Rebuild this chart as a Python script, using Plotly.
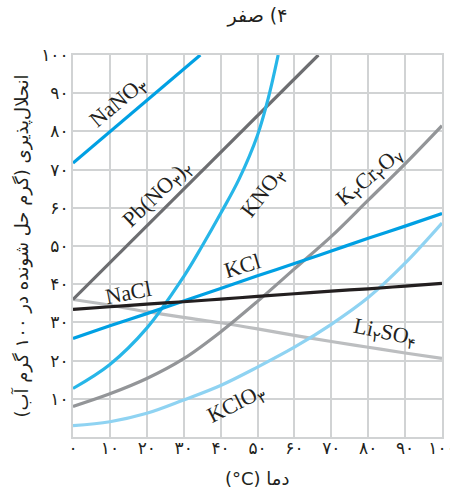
import plotly.graph_objects as go

RLE, PDF, LRM = "\u202b", "\u202c", "\u200e"

# ---- data (temperature in °C, solubility g / 100 g water) ----
temps = [0, 10, 20, 30, 40, 50, 60, 70, 80, 90, 100]

nano3_t = [0, 10, 20, 30, 34.5]
nano3_s = [71.7, 79.9, 88.1, 96.3, 100]

kno3_t = [0, 10, 20, 30, 35, 40, 45, 50, 53, 55.6]
kno3_s = [12.7, 19, 28.5, 42, 50, 58.5, 67.5, 79, 89, 100]

pbno32_t = [0, 10, 20, 30, 40, 50, 60, 66.5]
pbno32_s = [36, 45.6, 55.2, 64.8, 74.4, 84, 93.6, 100]

k2cr2o7_s = [8, 11.3, 15.3, 20.5, 27.5, 35.5, 44, 52.5, 62, 71.5, 81.5]
kcl_s = [25.8, 29.1, 32.3, 35.6, 38.9, 42.2, 45.4, 48.7, 52, 55.2, 58.5]
nacl_s = [33.4, 34.1, 34.8, 35.4, 36.1, 36.8, 37.5, 38.2, 38.8, 39.5, 40.2]
li2so4_s = [36, 34.5, 32.8, 31.3, 29.9, 28.3, 26.6, 25, 23.5, 22, 20.6]
kclo3_s = [3, 4, 6.2, 9.7, 13.5, 18.3, 23.5, 29.5, 36.5, 45.5, 56]

tick_vals = [0, 10, 20, 30, 40, 50, 60, 70, 80, 90, 100]
tick_text = ["۰", "۱۰", "۲۰", "۳۰", "۴۰", "۵۰", "۶۰", "۷۰", "۸۰", "۹۰", "۱۰۰"]
ytick_vals = [10, 20, 30, 40, 50, 60, 70, 80, 90, 100]
ytick_text = ["۱۰", "۲۰", "۳۰", "۴۰", "۵۰", "۶۰", "۷۰", "۸۰", "۹۰", "۱۰۰"]

title_text = "۴) صفر"
x_title = "دما (" + LRM + "°C)"
y_title = "انحلال\u200cپذیری (گرم حل شونده در ۱۰۰ گرم آب)"

# label text, position (data coords), angle
labels = [
    ("NaNO<sub>۳</sub>", 12.2, 87.4, -40),
    ("Pb(NO<sub>۳</sub>)<sub>۲</sub>", 23, 63.5, -44),
    ("KNO<sub>۳</sub>", 51.5, 64, -53),
    ("K<sub>۲</sub>Cr<sub>۲</sub>O<sub>۷</sub>", 80.5, 68, -40),
    ("KCl", 46, 44.8, -17),
    ("NaCl", 15, 37.9, -11),
    ("Li<sub>۲</sub>SO<sub>۴</sub>", 84.5, 27.1, 12),
    ("KClO<sub>۳</sub>", 44.4, 8.6, -27),
]

fig = go.Figure()

def add(x, y, color, shape="spline"):
    fig.add_trace(go.Scatter(x=x, y=y, mode="lines",
                             line=dict(color=color, width=3.2, shape=shape, smoothing=1.0),
                             hoverinfo="skip", showlegend=False, cliponaxis=True))

add(temps, li2so4_s, "#bcbec0")
add(temps, kclo3_s, "#8fd3f2")
add(temps, k2cr2o7_s, "#939598")
add(pbno32_t, pbno32_s, "#6d6e71", "linear")
add(kno3_t, kno3_s, "#27b6e8")
add(temps, kcl_s, "#00a0e3")
add(temps, nacl_s, "#231f20")
add(nano3_t, nano3_s, "#00a0e3", "linear")

for txt, lx, ly, ang in labels:
    fig.add_annotation(x=lx, y=ly, text=txt, textangle=ang, showarrow=False,
                       font=dict(family="Liberation Serif, DejaVu Serif, serif", size=22, color="#231f20"))

# x-axis title placed below the tick labels
fig.add_annotation(x=0.5, y=-41 / 382, xref="paper", yref="paper", yanchor="middle",
                   text=RLE + x_title + PDF, showarrow=False,
                   font=dict(family="DejaVu Sans", size=18, color="#231f20"))

grid = "#d1d3d4"
fig.update_layout(
    width=450, height=494,
    margin=dict(l=73, r=8, t=55, b=57, autoexpand=False),
    paper_bgcolor="white", plot_bgcolor="white",
    title=dict(text=RLE + title_text + PDF, x=0.5, xref="paper", y=1 - 15 / 494,
               yref="container", yanchor="middle", automargin=False,
               font=dict(family="DejaVu Sans", size=19, color="#231f20")),
    xaxis=dict(range=[0, 100], tickvals=tick_vals, ticktext=tick_text, showgrid=True,
               gridcolor=grid, gridwidth=2, zeroline=False, showline=True, mirror=True,
               linecolor=grid, linewidth=2, ticks="", ticklabelstandoff=-5,
               automargin=False, ticklabeloverflow="allow",
               tickfont=dict(family="DejaVu Sans", size=17, color="#231f20")),
    yaxis=dict(range=[0, 100], tickvals=ytick_vals, ticktext=ytick_text, showgrid=True,
               gridcolor=grid, gridwidth=2, zeroline=False, showline=True, mirror=True,
               linecolor=grid, linewidth=2, ticks="", ticklabelstandoff=-1,
               automargin=False, ticklabeloverflow="allow",
               tickfont=dict(family="DejaVu Sans", size=17, color="#231f20"),
               title=dict(text=RLE + y_title + PDF, standoff=8,
                          font=dict(family="DejaVu Sans", size=18, color="#231f20"))),
)

fig.write_html("out.html", config={"displayModeBar": False},
               post_script="document.body.style.margin='0';document.body.style.overflow='hidden';")
